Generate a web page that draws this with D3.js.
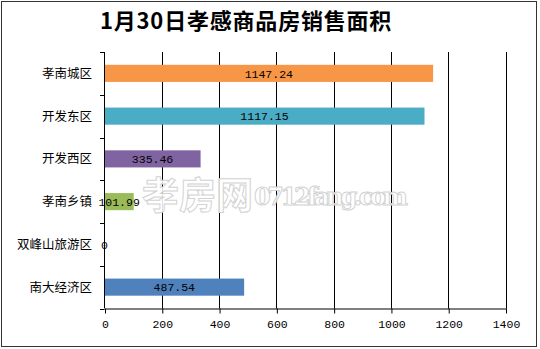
<!DOCTYPE html>
<html>
<head>
<meta charset="utf-8">
<script src="https://cdn.jsdelivr.net/npm/d3@7"></script>
<style>
  html, body { margin: 0; padding: 0; background: #fff; }
  svg { display: block; }
</style>
</head>
<body>
<svg id="chart" width="540" height="349"></svg>
<script>
const categories = ["孝南城区", "开发东区", "开发西区", "孝南乡镇", "双峰山旅游区", "南大经济区"];
const values = [1147.24, 1117.15, 335.46, 101.99, 0, 487.54];
const valueLabels = ["1147.24", "1117.15", "335.46", "101.99", "0", "487.54"];
const colors = ["#F79646", "#4BACC6", "#8064A2", "#9BBB59", "#C0504D", "#4F81BD"];
const xTicks = [0, 200, 400, 600, 800, 1000, 1200, 1400];
const title = "1月30日孝感商品房销售面积";
const watermarkCn = "孝房网";
const watermarkEn = "0712fang.com";

const svg = d3.select("#chart");

// outer border
svg.append("rect").attr("x", 1.5).attr("y", 1.5).attr("width", 535).attr("height", 345)
  .attr("fill", "#fff").attr("stroke", "#333").attr("stroke-width", 1);

// title
svg.append("text").attr("x", 100).attr("y", 29)
  .attr("font-family", "'Noto Sans CJK SC', sans-serif").attr("font-weight", "bold")
  .attr("font-size", 22).attr("letter-spacing", 0.8).attr("fill", "#000").text(title);

const plotTop = 52, plotBottom = 308.5;
const x = d3.scaleLinear().domain([0, 1400]).range([104.5, 505.5]);
const y = d3.scaleBand().domain(categories).range([plotTop, plotBottom]).paddingInner(0.6).paddingOuter(0.3);

// gridlines
svg.append("g").selectAll("line").data(xTicks.filter(d => d > 0)).join("line")
  .attr("x1", d => Math.round(x(d)) + 0.5).attr("x2", d => Math.round(x(d)) + 0.5)
  .attr("y1", plotTop).attr("y2", plotBottom)
  .attr("stroke", "#000").attr("stroke-width", 1);

// bars
svg.append("g").selectAll("rect").data(categories).join("rect")
  .attr("x", x(0))
  .attr("y", d => y(d))
  .attr("width", (d, i) => x(values[i]) - x(0))
  .attr("height", y.bandwidth())
  .attr("fill", (d, i) => colors[i]);

// bottom axis
const xAxis = d3.axisBottom(x).tickValues(xTicks).tickFormat(d3.format("d"))
  .tickSize(5).tickSizeOuter(0).tickPadding(6);
const gx = svg.append("g").attr("transform", `translate(0.5,${plotBottom})`).call(xAxis);
gx.select(".domain").attr("stroke", "#000");
gx.selectAll(".tick line").attr("stroke", "#000");
gx.selectAll(".tick text").attr("font-family", "'Liberation Mono', monospace").attr("font-size", 11.5).attr("fill", "#000");

// left axis line + ticks at band boundaries
svg.append("line").attr("x1", 104.5).attr("x2", 104.5).attr("y1", plotTop).attr("y2", plotBottom).attr("stroke", "#000");
const step = (plotBottom - plotTop) / categories.length;
const boundaries = d3.range(categories.length + 1).map(i => plotTop + i * step);
svg.append("g").selectAll("line").data(boundaries).join("line")
  .attr("x1", 100).attr("x2", 104.5)
  .attr("y1", d => Math.round(d) + 0.5).attr("y2", d => Math.round(d) + 0.5)
  .attr("stroke", "#000");

// watermark
const wm = svg.append("g").attr("fill", "#fff").attr("fill-opacity", 0.9)
  .attr("stroke", "#d2d2d2").attr("stroke-width", 1);
wm.append("text").attr("x", 142).attr("y", 209)
  .attr("font-family", "'Noto Sans CJK SC', sans-serif").attr("font-weight", "bold")
  .attr("font-size", 37).attr("textLength", 111).text(watermarkCn);
wm.append("text").attr("x", 254).attr("y", 205)
  .attr("font-family", "'DejaVu Serif', serif").attr("font-weight", "bold")
  .attr("font-size", 24).attr("textLength", 154).text(watermarkEn);

// category labels
svg.append("g").selectAll("text").data(categories).join("text")
  .attr("x", 92).attr("y", d => y(d) + y.bandwidth() / 2)
  .attr("dy", "0.35em").attr("text-anchor", "end")
  .attr("font-family", "'Noto Sans CJK SC', sans-serif").attr("font-size", 12.5).attr("fill", "#000")
  .text(d => d);

// value labels
svg.append("g").selectAll("text").data(categories).join("text")
  .attr("x", (d, i) => (x(0) + x(values[i])) / 2)
  .attr("y", d => y(d) + y.bandwidth() / 2)
  .attr("dy", "0.36em").attr("text-anchor", "middle")
  .attr("font-family", "'Liberation Mono', monospace").attr("font-size", 11.5).attr("fill", "#000")
  .text((d, i) => valueLabels[i]);
</script>
</body>
</html>
